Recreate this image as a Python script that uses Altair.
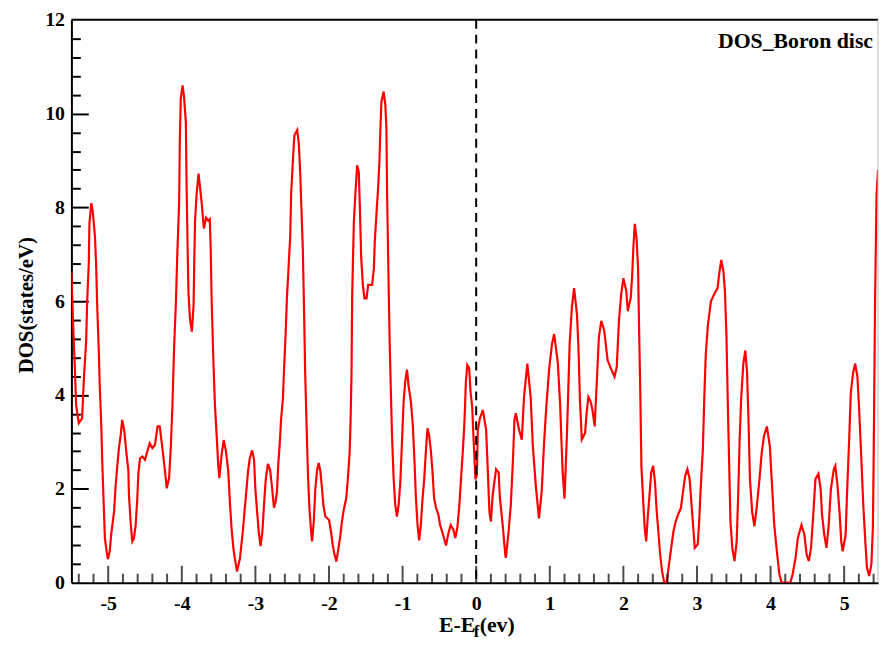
import altair as alt
import pandas as pd

# ---- data ----
energy = [
    -5.50, -5.48, -5.455, -5.436, -5.40, -5.355, -5.33, -5.30, -5.286, -5.264, -5.255, -5.23, -5.21,
    -5.18, -5.164, -5.15, -5.127, -5.114, -5.095, -5.082, -5.06, -5.045, -5.02, -5.005, -4.98, -4.96,
    -4.92, -4.90, -4.877, -4.855, -4.83, -4.81, -4.78, -4.755, -4.727, -4.718, -4.695, -4.673, -4.65,
    -4.627, -4.605, -4.59, -4.568, -4.536, -4.50, -4.468, -4.436, -4.40, -4.364, -4.33, -4.30, -4.264,
    -4.23, -4.205, -4.173, -4.15, -4.127, -4.105, -4.08, -4.06, -4.036, -4.027, -4.014, -3.99, -3.97,
    -3.945, -3.936, -3.92, -3.91, -3.89, -3.864, -3.84, -3.83, -3.82, -3.80, -3.773, -3.75, -3.727,
    -3.70, -3.67, -3.64, -3.62, -3.608, -3.595, -3.572, -3.55, -3.527, -3.505, -3.49, -3.46, -3.43,
    -3.40, -3.37, -3.347, -3.324, -3.30, -3.28, -3.25, -3.21, -3.19, -3.167, -3.144, -3.12, -3.10,
    -3.077, -3.045, -3.018, -3.00, -2.977, -2.955, -2.93, -2.905, -2.883, -2.86, -2.83, -2.80, -2.775,
    -2.748, -2.725, -2.707, -2.69, -2.67, -2.65, -2.626, -2.613, -2.59, -2.572, -2.55, -2.527, -2.514,
    -2.49, -2.47, -2.432, -2.41, -2.39, -2.374, -2.356, -2.342, -2.324, -2.30, -2.284, -2.266, -2.243,
    -2.23, -2.207, -2.185, -2.162, -2.14, -2.117, -2.095, -2.077, -2.05, -2.00, -1.973, -1.95, -1.928,
    -1.90, -1.85, -1.824, -1.80, -1.766, -1.743, -1.72, -1.707, -1.694, -1.685, -1.662, -1.64, -1.617,
    -1.595, -1.58, -1.563, -1.54, -1.518, -1.49, -1.468, -1.414, -1.39, -1.378, -1.356, -1.333, -1.315,
    -1.30, -1.288, -1.257, -1.234, -1.22, -1.21, -1.19, -1.176, -1.158, -1.144, -1.122, -1.10, -1.077,
    -1.054, -1.03, -1.01, -0.986, -0.964, -0.94, -0.92, -0.887, -0.86, -0.838, -0.82, -0.797, -0.775,
    -0.752, -0.73, -0.707, -0.685, -0.662, -0.64, -0.617, -0.595, -0.572, -0.545, -0.514, -0.49, -0.455,
    -0.432, -0.41, -0.378, -0.347, -0.31, -0.284, -0.257, -0.23, -0.207, -0.185, -0.167, -0.153, -0.14,
    -0.12, -0.095, -0.077, -0.054, -0.04, -0.01, 0.01, 0.022, 0.05, 0.09, 0.135, 0.157, 0.18, 0.20,
    0.224, 0.27, 0.305, 0.323, 0.36, 0.395, 0.404, 0.44, 0.47, 0.50, 0.52, 0.538, 0.583, 0.62, 0.65,
    0.695, 0.74, 0.77, 0.81, 0.853, 0.89, 0.92, 0.95, 0.99, 1.03, 1.06, 1.11, 1.14, 1.175, 1.20, 1.234,
    1.27, 1.30, 1.33, 1.37, 1.39, 1.41, 1.435, 1.48, 1.50, 1.525, 1.555, 1.58, 1.61, 1.64, 1.667, 1.70,
    1.74, 1.786, 1.84, 1.88, 1.91, 1.94, 1.97, 2.00, 2.04, 2.06, 2.10, 2.12, 2.135, 2.155, 2.18, 2.20,
    2.21, 2.23, 2.245, 2.27, 2.29, 2.31, 2.33, 2.355, 2.378, 2.405, 2.43, 2.45, 2.475, 2.50, 2.525,
    2.555, 2.59, 2.62, 2.65, 2.68, 2.71, 2.74, 2.78, 2.81, 2.84, 2.87, 2.90, 2.92, 2.95, 2.97, 3.01,
    3.03, 3.05, 3.08, 3.10, 3.12, 3.15, 3.19, 3.23, 3.28, 3.30, 3.33, 3.36, 3.38, 3.40, 3.42, 3.44,
    3.455, 3.48, 3.51, 3.54, 3.56, 3.58, 3.60, 3.63, 3.657, 3.68, 3.70, 3.72, 3.75, 3.78, 3.81, 3.85,
    3.88, 3.91, 3.95, 3.99, 4.02, 4.05, 4.09, 4.12, 4.15, 4.20, 4.27, 4.30, 4.34, 4.37, 4.42, 4.46,
    4.49, 4.52, 4.55, 4.58, 4.61, 4.65, 4.68, 4.70, 4.73, 4.76, 4.79, 4.82, 4.86, 4.88, 4.91, 4.94,
    4.96, 4.98, 5.02, 5.04, 5.07, 5.09, 5.12, 5.15, 5.18, 5.20, 5.23, 5.26, 5.29, 5.31, 5.34, 5.37,
    5.39, 5.40, 5.42, 5.44, 5.46,
]
dos = [
    6.63, 5.64, 4.64, 3.79, 3.40, 3.50, 4.36, 5.14, 5.99, 6.81, 7.66, 8.09, 7.91,
    7.38, 6.77, 5.92, 4.89, 4.14, 3.40, 2.62, 1.62, 0.95, 0.65, 0.50, 0.66, 1.02,
    1.52, 2.05, 2.48, 2.87, 3.15, 3.47, 3.22, 2.80, 2.40, 1.87, 1.27, 0.88, 0.95,
    1.23, 1.80, 2.33, 2.65, 2.69, 2.62, 2.80, 2.97, 2.87, 2.94, 3.33, 3.33, 2.87,
    2.40, 2.01, 2.23, 2.87, 3.79, 5.00, 5.99, 7.06, 8.12, 9.44, 10.32, 10.60, 10.36,
    9.82, 8.55, 7.06, 6.20, 5.64, 5.35, 5.92, 6.91, 7.70, 8.26, 8.72, 8.40, 8.05,
    7.55, 7.78, 7.72, 7.75, 7.16, 6.06, 4.78, 3.79, 3.15, 2.51, 2.23, 2.72, 3.04,
    2.80, 2.40, 1.73, 1.16, 0.74, 0.52, 0.24, 0.52, 0.81, 1.16, 1.59, 2.01, 2.37,
    2.65, 2.82, 2.62, 1.98, 1.52, 1.09, 0.78, 1.09, 1.66, 2.19, 2.53, 2.40, 2.05,
    1.60, 1.73, 1.94, 2.51, 2.94, 3.50, 3.93, 4.46, 5.28, 6.06, 6.70, 7.38, 8.30,
    9.01, 9.54, 9.65, 9.36, 8.69, 7.94, 7.13, 6.06, 4.50, 3.08, 2.23, 1.59, 1.09,
    0.88, 1.30, 2.01, 2.40, 2.55, 2.37, 2.01, 1.66, 1.41, 1.34, 1.09, 0.81, 0.62,
    0.45, 0.95, 1.30, 1.55, 1.80, 2.23, 2.76, 3.43, 4.43, 6.13, 7.70, 8.33, 8.90,
    8.76, 7.98, 6.95, 6.35, 6.06, 6.06, 6.35, 6.35, 6.70, 7.27, 7.84, 8.40, 8.97,
    9.75, 10.25, 10.47, 10.18, 9.68, 8.23, 6.38, 5.14, 4.00, 3.15, 2.23, 1.66, 1.41,
    1.66, 2.16, 2.94, 3.86, 4.29, 4.54, 4.21, 3.86, 3.33, 2.58, 1.84, 1.23, 0.90,
    1.23, 1.77, 2.19, 2.76, 3.29, 3.15, 2.83, 2.40, 1.80, 1.59, 1.45, 1.23, 1.05,
    0.92, 0.79, 1.05, 1.23, 1.13, 0.95, 1.16, 1.62, 2.19, 2.72, 3.19, 3.68, 4.29,
    4.64, 4.57, 4.07, 3.75, 3.22, 2.20, 2.30, 3.26, 3.50, 3.68, 3.26, 2.42, 1.51, 1.30,
    1.86, 2.42, 2.35, 1.79, 1.23, 0.60, 0.53, 1.09, 1.65, 2.63, 3.47, 3.61, 3.26, 3.05, 3.96,
    4.67, 3.96, 2.91, 2.07, 1.37, 1.93, 2.91, 3.68, 4.53, 5.09, 5.30, 4.67, 3.82, 2.35, 1.79, 3.19,
    5.09, 5.87, 6.28, 5.71, 5.00, 3.89, 3.05, 3.19, 3.61, 3.96, 3.86, 3.68, 3.33, 4.32, 5.23, 5.58,
    5.37, 4.74, 4.53, 4.39, 4.60, 5.58, 6.14, 6.49, 6.21, 5.79, 6.07, 6.56, 7.12, 7.65, 7.33, 6.70,
    5.72, 4.04, 2.49, 1.72, 1.16, 0.88, 1.37, 1.86, 2.35, 2.49, 2.14, 1.58, 1.09, 0.60, 0.25,
    0.00, 0.03, 0.39, 0.74, 1.09, 1.30, 1.44, 1.58, 1.93, 2.28, 2.42, 2.21, 1.79, 1.16, 0.74, 0.81,
    1.30, 2.00, 2.84, 3.96, 4.88, 5.51, 6.00, 6.14, 6.28, 6.56, 6.88, 6.63, 6.21, 5.30, 3.75, 2.35,
    1.30, 0.74, 0.46, 0.88, 1.86, 3.05, 3.90, 4.67, 4.95, 4.50, 3.47, 2.21, 1.51, 1.20, 1.58, 2.21,
    2.77, 3.12, 3.33, 2.91, 2.07, 1.23, 0.60, 0.18, 0.00, 0.00, 0.00, 0.18, 0.53, 0.95, 1.23, 1.02,
    0.60, 0.46, 0.74, 1.44, 2.21, 2.32, 2.00, 1.44, 1.02, 0.74, 1.23, 2.00, 2.42, 2.49, 2.07, 1.44,
    0.88, 0.67, 1.02, 1.93, 3.12, 4.04, 4.46, 4.67, 4.39, 3.82, 2.77, 1.65, 0.81, 0.32, 0.14, 0.39,
    1.16, 2.50, 6.00, 8.25, 8.80,
]

x_major = [-5, -4, -3, -2, -1, 0, 1, 2, 3, 4, 5]
x_minor = [round(-5.4 + 0.2 * i, 1) for i in range(55) if round(-5.4 + 0.2 * i, 1) not in x_major]
y_major = [0, 2, 4, 6, 8, 10, 12]
y_minor = [round(0.4 * i, 1) for i in range(1, 30) if round(0.4 * i, 1) % 2 != 0]
y_ticks_all = sorted(y_major[1:-1] + y_minor)
fermi = [0]

title_text = ["DOS_Boron disc"]

W, H = 814, 568
X0, X1 = -5.5, 5.46
FONT = "Liberation Serif"

df = pd.DataFrame({"x": energy, "y": dos})

xscale = alt.Scale(domain=[X0, X1], nice=False, zero=False)
yscale = alt.Scale(domain=[0, 12], nice=False)

lab_expr = "'' + datum.value"

xaxis = alt.Axis(values=x_major, title=None, ticks=False, grid=False, domainColor="black",
                 domainWidth=2, labelFont=FONT, labelFontWeight="bold", labelFontSize=20,
                 labelColor="black", labelPadding=11, labelExpr=lab_expr, labelFlush=False)
yaxis = alt.Axis(values=y_major, title=None, ticks=False, grid=False, domainColor="black",
                 domainWidth=2, labelFont=FONT, labelFontWeight="bold", labelFontSize=20,
                 labelColor="black", labelPadding=7, labelExpr=lab_expr, labelFlush=False)
# second y axis: a right-hand axis moved onto the left edge, so its ticks point inward
ytick_axis = alt.Axis(orient="right", offset=-W, values=y_ticks_all, title=None, labels=False,
                      domain=False, grid=False, ticks=True, tickColor="black", tickWidth=2,
                      tickSize={"condition": {"test": "abs(datum.value % 2) < 0.01", "value": 17},
                                "value": 9})

X = alt.X("x:Q", scale=xscale, axis=xaxis)
Y = alt.Y("y:Q", scale=yscale, axis=yaxis)

line = alt.Chart(df).mark_line(color="#ff0000", strokeWidth=2.2, clip=True).encode(x=X, y=Y)

# invisible carrier layer for the inward y-tick axis
ycarrier = alt.Chart(pd.DataFrame({"y": y_ticks_all})).transform_calculate(
    xc=str(X0)
).mark_point(opacity=0).encode(
    x=alt.X("xc:Q", scale=xscale, axis=xaxis),
    y=alt.Y("y:Q", scale=yscale, axis=ytick_axis))

vline = alt.Chart(pd.DataFrame({"x": fermi})).mark_rule(
    color="black", strokeWidth=2, strokeDash=[9, 6]).encode(x=X)

# inward x ticks placed by the scale
xmaj = alt.Chart(pd.DataFrame({"x": x_major})).mark_tick(
    color="black", thickness=2, size=17, orient="vertical").encode(x=X, y=alt.value(H - 8.5))
xmin = alt.Chart(pd.DataFrame({"x": x_minor})).mark_tick(
    color="black", thickness=2, size=9, orient="vertical").encode(x=X, y=alt.value(H - 4.5))

top = alt.Chart(pd.DataFrame({"k": [1]})).mark_rule(color="black", strokeWidth=2).encode(
    y=alt.value(0), x=alt.value(0), x2=alt.value(W))
right = alt.Chart(pd.DataFrame({"k": [2]})).mark_rule(color="#bbbbbb", strokeWidth=1).encode(
    x=alt.value(W), y=alt.value(0), y2=alt.value(H))

label = alt.Chart(pd.DataFrame({"t": title_text})).mark_text(
    font=FONT, fontWeight="bold", fontSize=22, align="right", baseline="alphabetic",
    color="black").encode(text="t:N", x=alt.value(W - 5), y=alt.value(28))

ytitle = alt.Chart(pd.DataFrame({"t": ["DOS(states/eV)"]})).mark_text(
    font=FONT, fontWeight="bold", fontSize=21, align="center", baseline="middle",
    angle=270, color="black").encode(text="t:N", x=alt.value(-45), y=alt.value(288))

xt1 = alt.Chart(pd.DataFrame({"t": ["E-E"]})).mark_text(
    font=FONT, fontWeight="bold", fontSize=22, align="left", baseline="alphabetic",
    color="black").encode(text="t:N", x=alt.value(371), y=alt.value(618))
xt2 = alt.Chart(pd.DataFrame({"t": ["f"]})).mark_text(
    font=FONT, fontWeight="bold", fontSize=17, align="left", baseline="alphabetic",
    color="black").encode(text="t:N", x=alt.value(406), y=alt.value(623))
xt3 = alt.Chart(pd.DataFrame({"t": ["(ev)"]})).mark_text(
    font=FONT, fontWeight="bold", fontSize=22, align="left", baseline="alphabetic",
    color="black").encode(text="t:N", x=alt.value(412), y=alt.value(618))

chart = alt.layer(line, ycarrier, vline, xmaj, xmin, top, right, label, ytitle, xt1, xt2, xt3).resolve_axis(
    y="independent"
).properties(
    width=W, height=H,
    autosize=alt.AutoSizeParams(type="none"),
    padding={"left": 64, "top": 9, "right": 1, "bottom": 60},
    background="white",
).configure_view(stroke=None)

chart.save("out.html", embed_options={"renderer": "svg", "actions": False})
